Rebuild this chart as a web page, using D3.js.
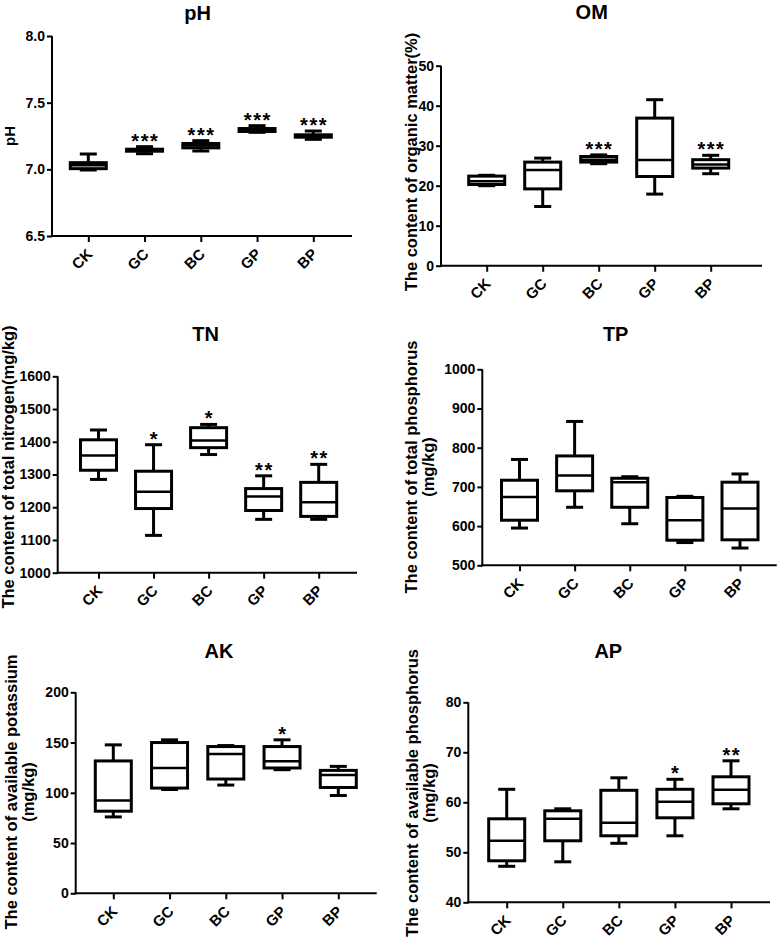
<!DOCTYPE html>
<html><head><meta charset="utf-8">
<script src="https://cdn.jsdelivr.net/npm/d3@7"></script>
<style>
html,body{margin:0;padding:0;background:#fff;}
svg{display:block;}
text{font-family:"Liberation Sans",Arial,sans-serif;font-weight:bold;fill:#000;}
</style></head>
<body>
<script>
// ---- data ----
const categories = ["CK","GC","BC","GP","BP"];
// five-number summaries: [min, q1, median, q3, max]
const phBoxes = [[6.995,7.005,7.03,7.05,7.115],[7.117,7.136,7.145,7.151,7.17],[7.1375,7.161,7.178,7.194,7.215],[7.2775,7.284,7.295,7.306,7.3275],[7.225,7.241,7.25,7.259,7.2875]];
const phSig = ["","***","***","***","***"];
const phTicks = [6.5,7.0,7.5,8.0];

const omBoxes = [[20.0,20.3,21.1,22.4,22.6],[14.8,19.2,23.9,25.9,26.9],[25.5,25.9,26.5,27.3,27.7],[17.9,22.3,26.4,36.9,41.5],[23.0,24.4,25.3,26.5,27.6]];
const omSig = ["","","***","","***"];
const omTicks = [0,10,20,30,40,50];

const tnBoxes = [[1285,1313,1358,1406,1436],[1114,1196,1247,1310,1391],[1361,1382,1404,1443,1453],[1163,1190,1233,1257,1296],[1163,1172,1215,1276,1331]];
const tnSig = ["","*","*","**","**"];
const tnTicks = [1000,1100,1200,1300,1400,1500,1600];

const tpBoxes = [[595,615,674,717,770],[648,690,729,779,867],[606,648,712,722,726],[558,564,615,673,676],[544,565,645,712,733]];
const tpSig = ["","","","",""];
const tpTicks = [500,600,700,800,900,1000];

const akBoxes = [[76,81.7,92.3,131.7,147.7],[103.3,104.7,124.7,150,152.7],[107.7,113.7,138.7,146,147],[123,124.7,131.3,146,152.7],[97.3,105.3,117.7,122.3,126.3]];
const akSig = ["","","","*",""];
const akTicks = [0,50,100,150,200];

const apBoxes = [[47.2,48.3,52.3,56.7,62.6],[48.1,52.3,56.7,58.3,58.7],[51.8,53.3,55.9,62.4,64.9],[53.3,56.9,60.1,62.6,64.6],[58.7,59.7,62.5,65.1,68.3]];
const apSig = ["","","","*","**"];
const apTicks = [40,50,60,70,80];

const titles = ["pH","OM","TN","TP","AK","AP"];
const yLabels = [["pH"],["The content of organic matter(%)"],["The content of total nitrogen(mg/kg)"],["The content of total phosphorus","(mg/kg)"],["The content of available potassium","(mg/kg)"],["The content of available phosphorus","(mg/kg)"]];

// ---- layout ----
const panels = [
  {boxes:phBoxes, sig:phSig, ticks:phTicks, fmt:d3.format(".1f"), left:52, right:352, top:36, bottom:236, c0:88.3, c1:313.3, tx:197.7, ty:20, lx:15, ly:136},
  {boxes:omBoxes, sig:omSig, ticks:omTicks, fmt:d3.format("d"), left:441, right:762, top:65.7, bottom:265.7, c0:486.7, c1:710.7, tx:591.7, ty:19, lx:417, ly:162},
  {boxes:tnBoxes, sig:tnSig, ticks:tnTicks, fmt:d3.format("d"), left:57.7, right:357, top:376.3, bottom:572.7, c0:98.5, c1:318.7, tx:205.7, ty:340.7, lx:14, ly:467},
  {boxes:tpBoxes, sig:tpSig, ticks:tpTicks, fmt:d3.format("d"), left:482.3, right:776.7, top:369.3, bottom:565.3, c0:519.5, c1:740, tx:615.7, ty:340.7, lx:417, ly:467},
  {boxes:akBoxes, sig:akSig, ticks:akTicks, fmt:d3.format("d"), left:75.7, right:376.7, top:692.3, bottom:893.3, c0:113.3, c1:338.3, tx:219, ty:658.3, lx:17, ly:792},
  {boxes:apBoxes, sig:apSig, ticks:apTicks, fmt:d3.format("d"), left:468.3, right:770, top:702.3, bottom:902.3, c0:506.7, c1:731, tx:608.3, ty:658.3, lx:418, ly:793}
];

const W = 779, H = 947;
const svg = d3.select("body").append("svg").attr("width", W).attr("height", H);

const boxW = 36, capW = 17, sw = 3;

panels.forEach((p, i) => {
  const g = svg.append("g");
  const ext = d3.extent(p.ticks);
  const y = d3.scaleLinear().domain(ext).range([p.bottom, p.top]);
  const x = d3.scalePoint().domain(categories).range([p.c0, p.c1]);

  // y axis
  const ya = d3.axisLeft(y).tickValues(p.ticks).tickFormat(p.fmt).tickSize(5).tickSizeOuter(0).tickPadding(2);
  const yg = g.append("g").attr("transform", `translate(${p.left},0)`).call(ya);
  yg.select(".domain").attr("stroke-width", 2).attr("d", `M0,${p.top}V${p.bottom + 1}`);
  yg.selectAll(".tick line").attr("stroke-width", 2);
  yg.selectAll(".tick text").style("font-size", "14px").style("font-weight", "bold").attr("fill", "#000");

  // x axis
  const xa = d3.axisBottom(x).tickSize(6).tickSizeOuter(0).tickFormat("");
  const xg = g.append("g").attr("transform", `translate(0,${p.bottom})`).call(xa);
  xg.select(".domain").attr("stroke-width", 2).attr("d", `M${p.left - 1},0H${p.right}`);
  xg.selectAll(".tick line").attr("stroke-width", 2);
  g.selectAll(".xlab").data(categories).join("text")
    .attr("class", "xlab")
    .attr("transform", d => `translate(${x(d) + 5},${p.bottom + 19}) rotate(-45)`)
    .attr("text-anchor", "end")
    .style("font-size", "15px")
    .text(d => d);

  // boxes
  const bg = g.selectAll(".box").data(p.boxes).join("g").attr("class", "box")
    .attr("transform", (d, j) => `translate(${x(categories[j])},0)`);
  bg.append("line").attr("x1", 0).attr("x2", 0)
    .attr("y1", d => y(d[0])).attr("y2", d => y(d[4]))
    .attr("stroke", "#000").attr("stroke-width", sw);
  bg.append("line").attr("x1", -capW / 2).attr("x2", capW / 2)
    .attr("y1", d => y(d[0])).attr("y2", d => y(d[0]))
    .attr("stroke", "#000").attr("stroke-width", sw);
  bg.append("line").attr("x1", -capW / 2).attr("x2", capW / 2)
    .attr("y1", d => y(d[4])).attr("y2", d => y(d[4]))
    .attr("stroke", "#000").attr("stroke-width", sw);
  bg.append("rect").attr("x", -boxW / 2).attr("width", boxW)
    .attr("y", d => y(d[3])).attr("height", d => y(d[1]) - y(d[3]))
    .attr("fill", "#fff").attr("stroke", "#000").attr("stroke-width", sw);
  bg.append("line").attr("x1", -boxW / 2).attr("x2", boxW / 2)
    .attr("y1", d => y(d[2])).attr("y2", d => y(d[2]))
    .attr("stroke", "#000").attr("stroke-width", 2.5);

  // significance stars
  g.selectAll(".sig").data(p.sig).join("text").attr("class", "sig")
    .attr("x", (d, j) => x(categories[j]) + 0.75)
    .attr("y", (d, j) => y(p.boxes[j][4]) + 1)
    .attr("text-anchor", "middle")
    .style("font-size", "20px")
    .style("letter-spacing", "1.5px")
    .text(d => d);

  // title
  g.append("text").attr("x", p.tx).attr("y", p.ty).attr("text-anchor", "middle")
    .style("font-size", "20px").text(titles[i]);

  // y label
  const yl = g.append("text")
    .attr("transform", `translate(${p.lx},${p.ly}) rotate(-90)`)
    .attr("text-anchor", "middle")
    .style("font-size", i === 0 ? "15px" : "16.5px");
  yLabels[i].forEach((t, k) => {
    yl.append("tspan").attr("x", 0).attr("dy", k === 0 ? 0 : "1.05em").text(t);
  });
});
</script>
</body></html>
